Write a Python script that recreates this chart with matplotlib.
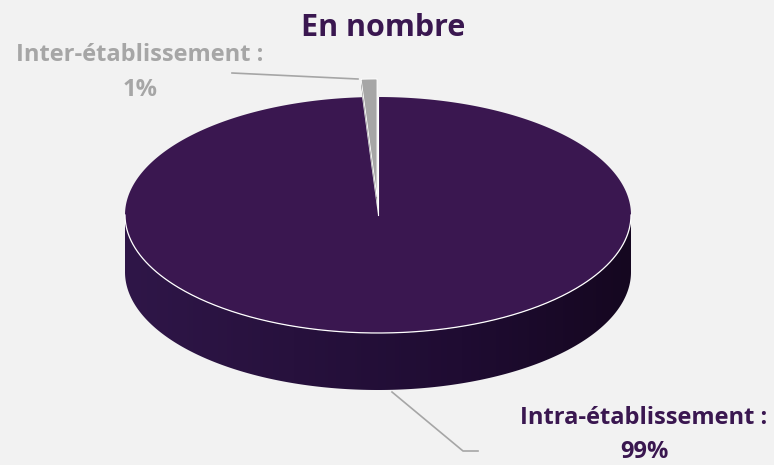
import numpy as np
import matplotlib
matplotlib.use("Agg")
import matplotlib.pyplot as plt
from matplotlib.patches import Polygon
import matplotlib.colors as mcolors

categories = ["Intra-établissement", "Inter-établissement"]
values = [99, 1]
pct_labels = ["99%", "1%"]
title = "En nombre"

BG = "#f2f2f2"
PURPLE = "#3a1750"
GRAY = "#a6a6a6"

fig = plt.figure(figsize=(7.74, 4.65), dpi=100, facecolor=BG)
ax = fig.add_axes([0, 0, 1, 1])
ax.set_facecolor(BG)
ax.set_xlim(0, 774)
ax.set_ylim(465, 0)
ax.axis("off")

cx, cy, a, b, depth = 378, 215, 253, 118, 57
total = sum(values)
frac_small = values[1] / total
th_small = (90, 90 + 360 * frac_small)
th_big = (90 + 360 * frac_small, 450)

def pt(th, dx=0, dy=0, dz=0):
    r = np.deg2rad(th)
    return (cx + dx + a * np.cos(r), cy + dy + dz - b * np.sin(r))

# side of big slice (front half: 180..360) as one polygon filled with a gradient
fr = np.linspace(180, 360, 300)
top_edge = [pt(t) for t in fr]
bot_edge = [pt(t, dz=depth) for t in fr[::-1]]
side_poly = Polygon(top_edge + bot_edge, closed=True, facecolor="none",
                    edgecolor="none", zorder=2)
ax.add_patch(side_poly)
cmap = mcolors.LinearSegmentedColormap.from_list(
    "side", ["#2f1648", "#27113d", "#1f0c32", "#150720"])
grad = np.linspace(0, 1, 256).reshape(1, -1)
im = ax.imshow(grad, cmap=cmap, aspect="auto",
               extent=(cx - a, cx + a, cy + b + depth + 2, cy - 2),
               zorder=2, interpolation="bilinear")
im.set_clip_path(side_poly)
ax.set_xlim(0, 774)
ax.set_ylim(465, 0)

# top of big slice
tt = np.linspace(th_big[0], th_big[1], 400)
poly = [(cx, cy)] + [pt(t) for t in tt]
ax.add_patch(Polygon(poly, closed=True, facecolor=PURPLE, edgecolor="none", zorder=3))
ax.plot([p[0] for p in top_edge], [p[1] for p in top_edge], color="white", lw=0.9, zorder=4)
ax.plot([cx, cx], [cy, cy - b], color="white", lw=0.8, zorder=4)

# small exploded slice
ex, ey = -1, -18
ts = np.linspace(th_small[0], th_small[1], 30)
poly_s = [(cx + ex, cy + ey)] + [pt(t, ex, ey) for t in ts]
pl = pt(th_small[1], ex, ey)
side = [(cx + ex, cy + ey), pl, (pl[0], pl[1] + 6), (cx + ex, cy + ey + 6)]
ax.add_patch(Polygon(side, closed=True, facecolor="#6e6e6e", edgecolor="none", zorder=5))
ax.add_patch(Polygon(poly_s, closed=True, facecolor=GRAY, edgecolor="white", lw=0.6, zorder=6))

# leader lines
ax.plot([232, 358], [73, 79], color="#a6a6a6", lw=1.2, zorder=7)
ax.plot([392, 463, 478], [392, 451, 451], color="#a6a6a6", lw=1.2, zorder=7)

fam = ["Open Sans", "DejaVu Sans"]
ax.text(383, 28, title, ha="center", va="center", fontsize=22, fontweight="bold",
        color=PURPLE, family=fam)
ax.text(140, 55, categories[1] + " :", ha="center", va="center", fontsize=17,
        fontweight="bold", color=GRAY, family=fam)
ax.text(140, 90, pct_labels[1], ha="center", va="center", fontsize=17,
        fontweight="bold", color=GRAY, family=fam)
ax.text(644, 418, categories[0] + " :", ha="center", va="center", fontsize=17,
        fontweight="bold", color=PURPLE, family=fam)
ax.text(644, 452, pct_labels[0], ha="center", va="center", fontsize=17,
        fontweight="bold", color=PURPLE, family=fam)

fig.savefig("out.png", dpi=100, facecolor=BG)
